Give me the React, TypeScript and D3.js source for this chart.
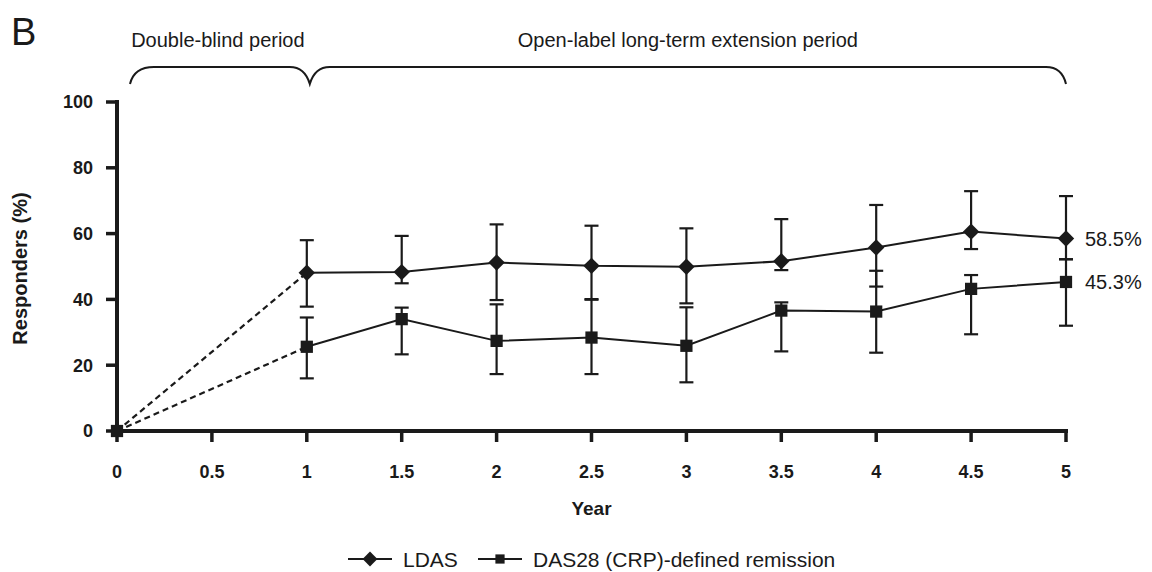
import React, { useEffect, useRef } from 'react'
import * as d3 from 'd3'

// years after start
const years = [1, 1.5, 2, 2.5, 3, 3.5, 4, 4.5, 5]
const xTicks = [0, 0.5, 1, 1.5, 2, 2.5, 3, 3.5, 4, 4.5, 5]
const yTicks = [0, 20, 40, 60, 80, 100]

// LDAS responders (%), with CI
const ldas = [48.1, 48.3, 51.2, 50.2, 49.9, 51.6, 55.8, 60.6, 58.5]
const ldasLo = [37.8, 44.9, 39.8, 40.1, 38.8, 48.9, 43.9, 55.3, 52.2]
const ldasHi = [58.0, 59.3, 62.8, 62.4, 61.6, 64.4, 68.7, 72.9, 71.4]

// DAS28 (CRP)-defined remission (%), with CI
const remission = [25.6, 34.0, 27.4, 28.4, 25.9, 36.6, 36.3, 43.2, 45.3]
const remissionLo = [16.0, 23.3, 17.3, 17.3, 14.8, 24.2, 23.8, 29.4, 32.0]
const remissionHi = [34.5, 37.5, 38.5, 39.9, 37.6, 39.1, 48.7, 47.4, 52.2]

const endLabels = ['58.5%', '45.3%']

const W = 1152
const H = 572
const FONT = '"Liberation Sans", Arial, sans-serif'

export default function App() {
  const ref = useRef<SVGSVGElement>(null)

  useEffect(() => {
    const svg = d3.select(ref.current)
    svg.selectAll('*').remove()

    const x = d3.scaleLinear().domain([0, 5]).range([117, 1066])
    const y = d3.scaleLinear().domain([0, 100]).range([431, 102])

    const ink = '#1a1a1a'

    // panel letter
    svg.append('text').attr('x', 11).attr('y', 45).attr('font-size', 38)
      .attr('font-family', FONT).attr('fill', ink).text('B')

    // period headers + braces
    const bTop = 67, bBot = 84
    const x0 = x(0) + 13, x1 = x(1) + 3, x5 = x(5)
    svg.append('text').attr('x', (x0 + x1) / 2 - 2).attr('y', 47).attr('text-anchor', 'middle')
      .attr('font-size', 20).attr('font-family', FONT).attr('fill', ink).text('Double-blind period')
    svg.append('text').attr('x', (x1 + x5) / 2).attr('y', 47).attr('text-anchor', 'middle')
      .attr('font-size', 20).attr('font-family', FONT).attr('fill', ink).text('Open-label long-term extension period')

    const brace = `M${x0},${bBot} Q${x0 + 4},${bTop} ${x0 + 24},${bTop} L${x1 - 20},${bTop} Q${x1 - 5},${bTop} ${x1},${bBot}`
      + ` Q${x1 + 5},${bTop} ${x1 + 20},${bTop} L${x5 - 20},${bTop} Q${x5 - 4},${bTop} ${x5},${bBot}`
    svg.append('path').attr('d', brace).attr('fill', 'none').attr('stroke', ink).attr('stroke-width', 2)

    // axes
    const axisG = svg.append('g')
    axisG.append('line').attr('x1', x(0)).attr('x2', x(0)).attr('y1', y(100) - 2).attr('y2', y(0) + 2)
      .attr('stroke', ink).attr('stroke-width', 4)
    axisG.append('line').attr('x1', x(0) - 2).attr('x2', x(5) + 2).attr('y1', y(0)).attr('y2', y(0))
      .attr('stroke', ink).attr('stroke-width', 4)

    yTicks.forEach(t => {
      axisG.append('line').attr('x1', x(0) - 11).attr('x2', x(0)).attr('y1', y(t)).attr('y2', y(t))
        .attr('stroke', ink).attr('stroke-width', 3.5)
      axisG.append('text').attr('x', x(0) - 24).attr('y', y(t)).attr('dy', '0.36em')
        .attr('text-anchor', 'end').attr('font-size', 18).attr('font-weight', 'bold')
        .attr('font-family', FONT).attr('fill', ink).text(t)
    })
    xTicks.forEach(t => {
      axisG.append('line').attr('x1', x(t)).attr('x2', x(t)).attr('y1', y(0)).attr('y2', y(0) + 11)
        .attr('stroke', ink).attr('stroke-width', 3.5)
      axisG.append('text').attr('x', x(t)).attr('y', 478)
        .attr('text-anchor', 'middle').attr('font-size', 18).attr('font-weight', 'bold')
        .attr('font-family', FONT).attr('fill', ink).text(t)
    })

    svg.append('text').attr('x', (x(0) + x(5)) / 2).attr('y', 515).attr('text-anchor', 'middle')
      .attr('font-size', 19).attr('font-weight', 'bold').attr('font-family', FONT).attr('fill', ink).text('Year')
    svg.append('text').attr('transform', `translate(27,${(y(0) + y(100)) / 2 + 2}) rotate(-90)`)
      .attr('text-anchor', 'middle').attr('font-size', 20).attr('font-weight', 'bold')
      .attr('font-family', FONT).attr('fill', ink).text('Responders (%)')

    // diamond = square turned 45°
    const series = [
      { vals: ldas, lo: ldasLo, hi: ldasHi, sym: d3.symbolSquare, size: 135, rot: 45, label: endLabels[0] },
      { vals: remission, lo: remissionLo, hi: remissionHi, sym: d3.symbolSquare, size: 150, rot: 0, label: endLabels[1] }
    ]

    const line = d3.line<number>().x((d, i) => x(years[i])).y(d => y(d))

    series.forEach(s => {
      const g = svg.append('g')
      // dashed from baseline
      g.append('line').attr('x1', x(0)).attr('y1', y(0)).attr('x2', x(years[0])).attr('y2', y(s.vals[0]))
        .attr('stroke', ink).attr('stroke-width', 2.2).attr('stroke-dasharray', '6,4')
      g.append('path').attr('d', line(s.vals)).attr('fill', 'none').attr('stroke', ink).attr('stroke-width', 2)

      years.forEach((yr, i) => {
        const cx = x(yr)
        g.append('line').attr('x1', cx).attr('x2', cx).attr('y1', y(s.lo[i])).attr('y2', y(s.hi[i]))
          .attr('stroke', ink).attr('stroke-width', 2.2)
        ;[s.lo[i], s.hi[i]].forEach(v => {
          g.append('line').attr('x1', cx - 7).attr('x2', cx + 7).attr('y1', y(v)).attr('y2', y(v))
            .attr('stroke', ink).attr('stroke-width', 2.2)
        })
      })
      years.forEach((yr, i) => {
        g.append('path').attr('d', d3.symbol().type(s.sym).size(s.size)())
          .attr('transform', `translate(${x(yr)},${y(s.vals[i])}) rotate(${s.rot})`).attr('fill', ink)
      })
      g.append('text').attr('x', x(5) + 19).attr('y', y(s.vals[s.vals.length - 1])).attr('dy', '0.36em')
        .attr('font-size', 20).attr('font-family', FONT).attr('fill', ink).text(s.label)
    })

    // origin marker
    svg.append('path').attr('d', d3.symbol().type(d3.symbolSquare).size(150)())
      .attr('transform', `translate(${x(0)},${y(0)})`).attr('fill', ink)

    // legend
    const leg = svg.append('g').attr('transform', 'translate(0,559)')
    const items = [
      { sym: d3.symbolSquare, size: 110, rot: 45, text: 'LDAS', x: 348 },
      { sym: d3.symbolSquare, size: 85, rot: 0, text: 'DAS28 (CRP)-defined remission', x: 478 }
    ]
    items.forEach(it => {
      leg.append('line').attr('x1', it.x).attr('x2', it.x + 44).attr('y1', 0).attr('y2', 0)
        .attr('stroke', ink).attr('stroke-width', 2)
      leg.append('path').attr('d', d3.symbol().type(it.sym).size(it.size)())
        .attr('transform', `translate(${it.x + 22},0) rotate(${it.rot})`).attr('fill', ink)
      leg.append('text').attr('x', it.x + 55).attr('y', 0).attr('dy', '0.36em')
        .attr('font-size', 21).attr('font-family', FONT).attr('fill', ink).text(it.text)
    })
  }, [])

  return (
    <svg ref={ref} width={W} height={H}
      style={{ position: 'absolute', left: 0, top: 0, background: '#fff' }} />
  )
}
